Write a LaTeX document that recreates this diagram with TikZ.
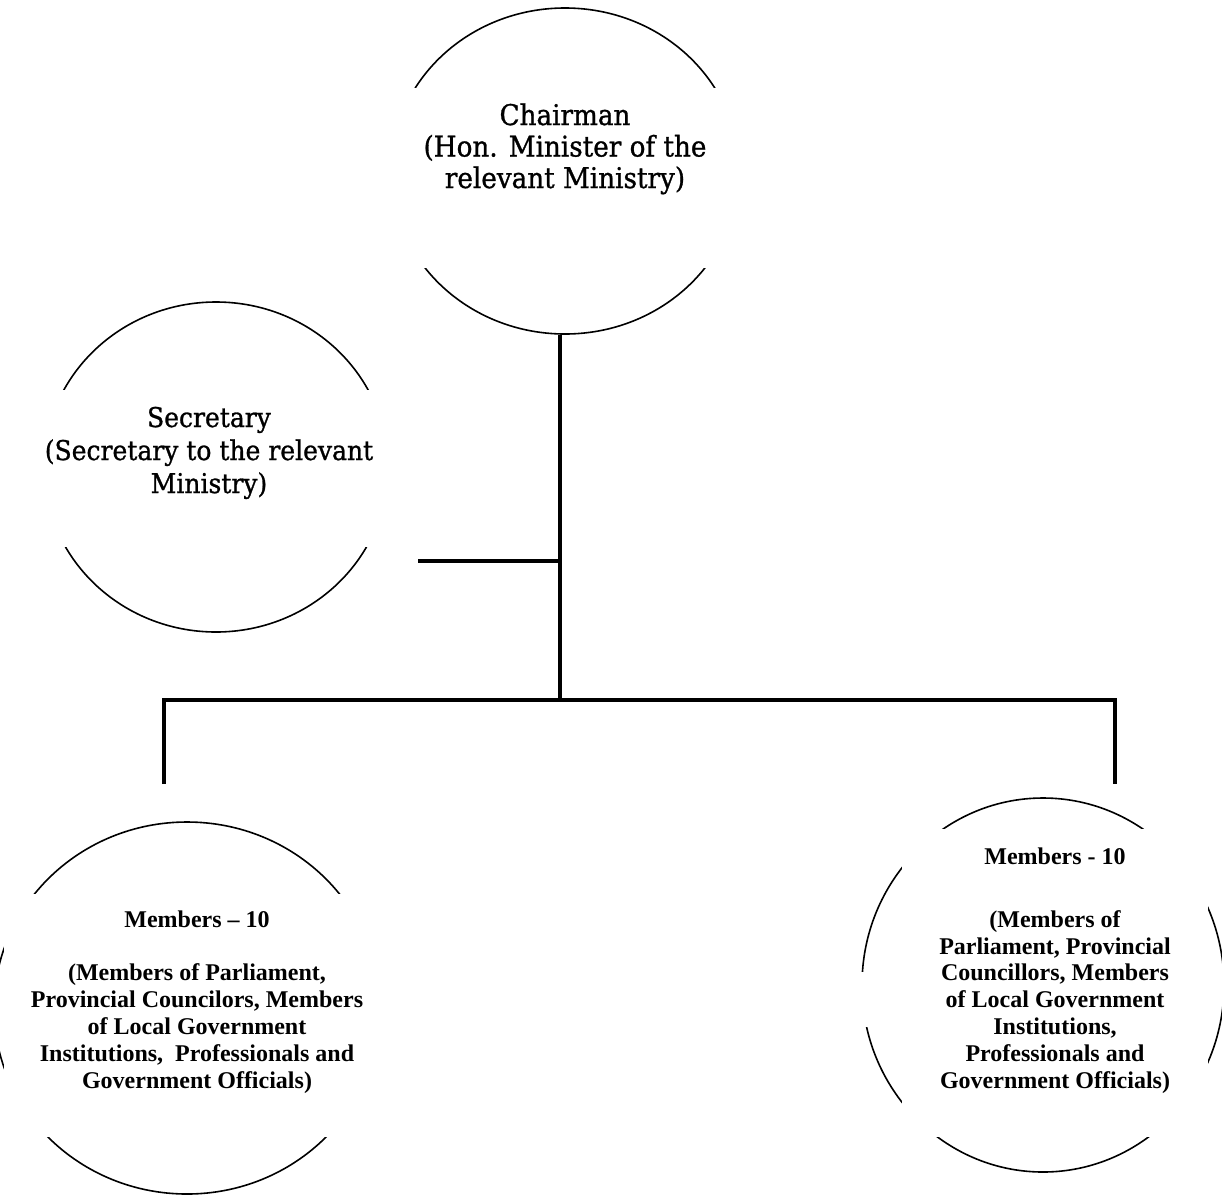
\documentclass[tikz,border=0pt]{standalone}
\usepackage{fontspec}
\setmainfont{Liberation Serif}
\newfontfamily\centfont[FakeStretch=0.92,FakeBold=1.0]{DejaVu Serif}
\usetikzlibrary{shapes.geometric}
\begin{document}
\begin{tikzpicture}[x=1pt,y=-1pt,
  oval/.style={ellipse,draw,line width=1.6pt,inner sep=0pt},
  mask/.style={fill=white,draw=none},
  toptext/.style={align=center,inner sep=0pt,anchor=base,font=\centfont\fontsize{28.5}{31.5}\selectfont},
  memtext/.style={align=center,inner sep=0pt,anchor=base,font=\bfseries\fontsize{24}{26.8}\selectfont},
  conn/.style={line width=3.8pt}]
\useasboundingbox (0,0) rectangle (1222,1202);
\clip (0,0) rectangle (1222,1202);
% ovals
\node[oval,minimum width=348pt,minimum height=326pt] (chairE) at (565,171) {};
\node[oval,minimum width=344pt,minimum height=330pt] (secE) at (216,467) {};
\node[oval,minimum width=386pt,minimum height=372pt] (memLE) at (187,1008) {};
\node[oval,minimum width=362pt,minimum height=374pt] (memRE) at (1043,985) {};
% text frames hiding the sides of the ovals
\path[mask] (375,88) rectangle (755,268);
\path[mask] (25,390) rectangle (405,547);
\path[mask] (4,894) rectangle (400,1137);
\path[mask] (902,829) rectangle (1208,1137);
\path[mask] (850,972) rectangle (886,1027);
% texts (base anchor = baseline of the last line)
\node[toptext] (chair) at (565,188) {Chairman\\(Hon. Minister of the\\relevant Ministry)};
\node[toptext,font=\centfont\fontsize{27.2}{33}\selectfont] (sec) at (209,493) {Secretary\\(Secretary to the relevant\\Ministry)};
\node[memtext] (memL) at (197,1088) {Members -- 10\\[26.8pt](Members of Parliament,\\Provincial Councilors, Members\\of Local Government\\Institutions,\ \ Professionals and\\Government Officials)};
\node[memtext] (memR) at (1055,1088) {Members - 10\\[36.2pt](Members of\\Parliament, Provincial\\Councillors, Members\\of Local Government\\Institutions,\\Professionals and\\Government Officials)};
% connectors
\coordinate (hub) at (560,700);
\coordinate (secEnd) at (418,561);
\coordinate (dropL) at (164,784);
\coordinate (dropR) at (1115,784);
\draw[conn] (hub |- chairE.south) -- (hub);
\draw[conn] (secEnd) -- (secEnd -| hub);
\draw[conn] (dropL) -- (dropL |- hub) -- (dropR |- hub) -- (dropR);
\end{tikzpicture}
\end{document}
